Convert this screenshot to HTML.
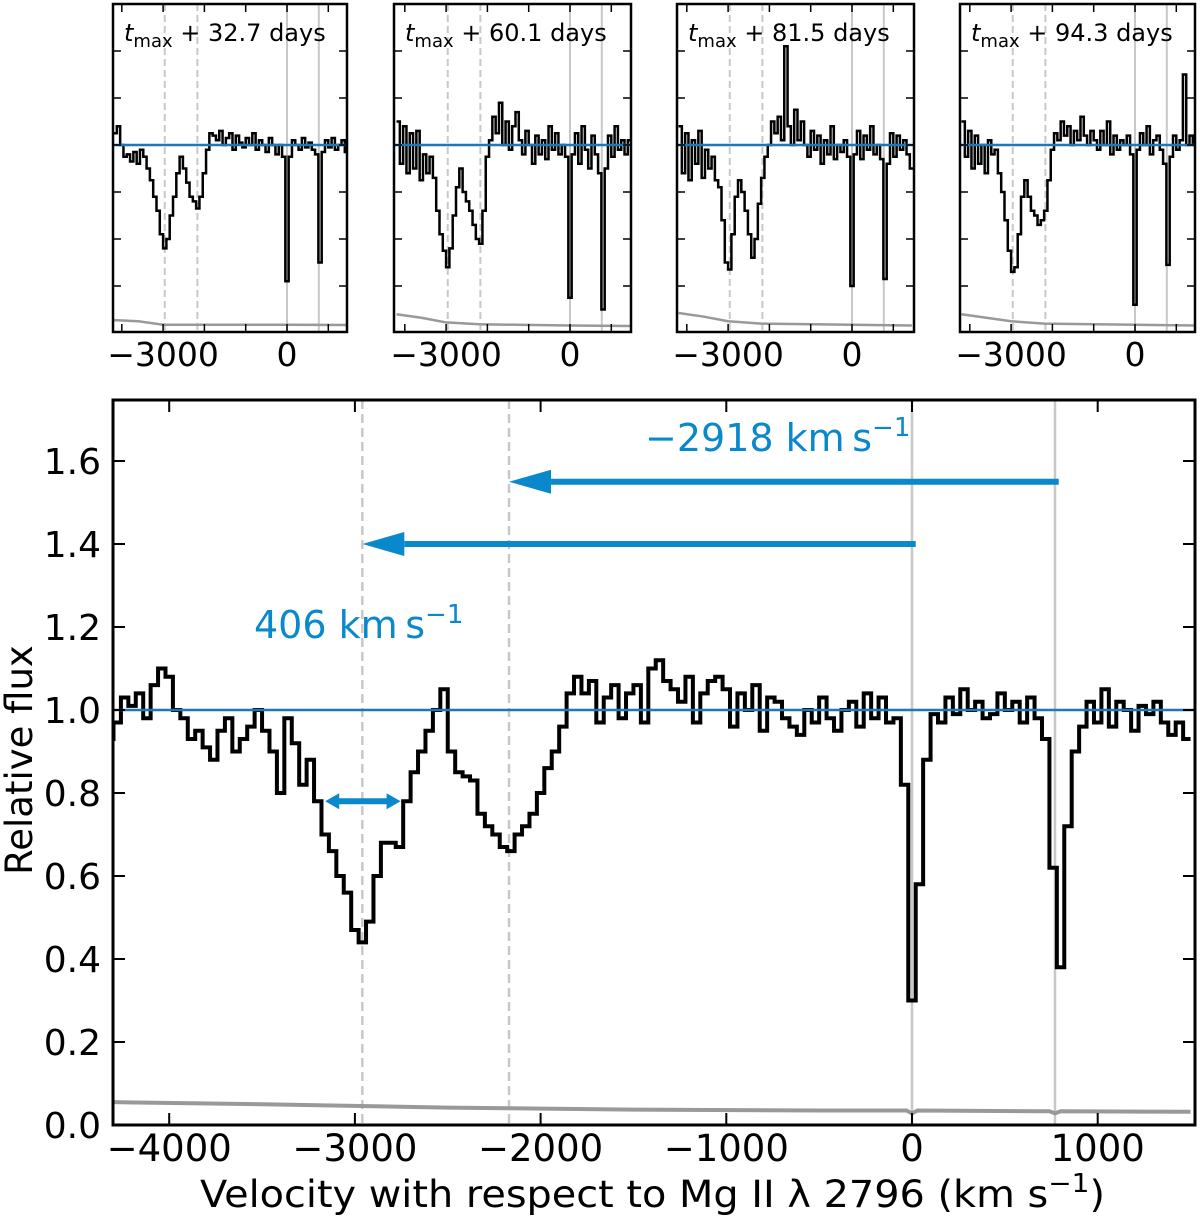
<!DOCTYPE html>
<html><head><meta charset="utf-8"><style>
body{margin:0;background:#fff}
svg{display:block;font-family:"DejaVu Sans","Liberation Sans",sans-serif}
</style></head><body>
<svg id="fig" width="1200" height="1227" viewBox="0 0 1200 1227" xmlns="http://www.w3.org/2000/svg">
<defs>
<marker id="ah" markerWidth="7" markerHeight="4" refX="0" refY="2" orient="auto" markerUnits="strokeWidth"><path d="M0,0 L7,2 L0,4 Z" fill="#0a88cc"/></marker>
</defs>
<g id="panels"></g>
<g id="main"></g>
</svg>
<script>
// ---- main panel data ----
const mainV0 = -4320, mainStep = 40;
const mainFlux = [
0.93,0.97,1.03,1.01,1.04,0.98,1.06,1.10,1.08,1.00,
0.98,0.93,0.95,0.91,0.88,0.95,0.98,0.90,0.93,0.96,
1.00,0.95,0.90,0.80,0.98,0.92,0.82,0.88,0.78,0.70,
0.66,0.60,0.56,0.47,0.44,0.49,0.60,0.68,0.68,0.67,
0.78,0.85,0.90,0.95,1.00,1.05,0.90,0.85,0.84,0.83,
0.75,0.72,0.70,0.67,0.66,0.70,0.72,0.75,0.80,0.86,
0.90,0.96,1.04,1.08,1.04,1.07,0.97,1.03,1.06,0.98,
1.04,1.06,0.97,1.10,1.12,1.07,1.05,1.02,1.08,0.97,
1.04,1.07,1.08,1.05,0.96,1.04,1.00,1.06,0.95,1.03,
1.02,0.98,0.96,0.94,1.00,0.97,1.03,0.98,0.95,1.00,
1.02,0.96,1.04,0.98,1.03,0.97,0.98,0.82,0.30,0.58,
0.88,0.99,0.97,1.03,0.99,1.05,1.00,1.02,0.98,0.99,
1.04,1.00,1.02,0.97,1.03,0.98,0.93,0.62,0.38,0.72,
0.90,0.96,1.02,0.97,1.05,0.96,1.02,1.00,0.95,1.01,
0.99,1.02,0.97,0.94,0.97,0.93];
const errV = [-4300,-3500,-2500,-1500,-500,-30,0,30,740,770,800,1500];
const errF = [0.055,0.05,0.042,0.037,0.035,0.035,0.028,0.035,0.033,0.028,0.033,0.032];
const xTicks = [-4000,-3000,-2000,-1000,0,1000];
const xTickLabels = ["\u22124000","\u22123000","\u22122000","\u22121000","0","1000"];
const yTicks = [0.0,0.2,0.4,0.6,0.8,1.0,1.2,1.4,1.6];
const yTickLabels = ["0.0","0.2","0.4","0.6","0.8","1.0","1.2","1.4","1.6"];
const dashedV = [-2960,-2170];
const solidV = [0,770];
// ---- small panel data ----
const panelV0 = -4160, panelStep = 80;
const panelTitles = ["+ 32.7 days","+ 60.1 days","+ 81.5 days","+ 94.3 days"];
const panelFlux1 = [1.05,1.08,1.00,0.95,0.96,0.93,0.97,0.92,0.98,0.95,
0.90,0.85,0.78,0.72,0.62,0.56,0.60,0.70,0.78,0.88,
0.95,0.90,0.84,0.78,0.76,0.73,0.78,0.88,0.98,1.05,
1.04,1.02,1.06,1.00,1.03,1.05,0.98,1.04,1.01,0.99,
1.03,1.00,1.05,0.98,1.02,1.00,0.97,1.03,1.00,0.96,
1.00,0.95,0.42,0.95,1.02,1.00,0.98,1.03,0.99,1.01,
0.98,0.96,0.50,0.97,1.02,0.99,1.03,0.98,1.00,1.02,0.97];
const panelFlux2 = [1.10,0.92,1.08,0.88,1.05,0.90,1.06,0.85,0.96,0.88,
0.95,0.86,0.72,0.62,0.55,0.48,0.56,0.70,0.82,0.90,
0.80,0.76,0.72,0.66,0.60,0.58,0.72,0.95,1.02,1.12,
1.05,1.18,1.00,1.10,0.98,1.08,1.14,1.02,0.96,1.06,
1.00,0.92,1.04,0.96,1.02,0.94,1.08,0.98,1.05,0.96,
1.00,0.95,0.35,0.96,1.05,0.92,1.08,0.98,0.90,1.04,
0.96,0.88,0.30,0.90,1.04,0.95,1.08,0.98,1.02,0.96,1.02];
const panelFlux3 = [1.08,0.88,1.05,0.85,1.02,0.92,1.06,0.86,0.98,0.90,
0.95,0.85,0.82,0.68,0.50,0.47,0.62,0.78,0.85,0.80,
0.72,0.62,0.52,0.60,0.75,0.86,0.95,1.00,1.10,1.05,
1.12,1.02,1.42,1.08,1.00,1.15,1.02,1.10,1.00,0.95,
1.06,0.98,1.04,0.92,1.02,0.96,1.08,0.94,1.00,0.97,
1.02,0.95,0.40,0.96,1.06,0.94,1.04,0.98,1.08,0.96,
1.00,0.94,0.43,0.92,1.05,0.95,1.04,0.98,1.02,0.96,0.90];
const panelFlux4 = [1.10,0.95,1.06,0.90,1.04,0.92,1.00,0.88,1.02,0.96,
0.98,0.88,0.80,0.68,0.55,0.46,0.48,0.62,0.78,0.85,
0.78,0.72,0.70,0.66,0.68,0.72,0.85,0.98,1.05,1.02,
1.10,1.04,1.08,1.00,1.06,1.02,1.12,1.04,1.00,1.06,
1.02,0.98,1.06,1.00,1.10,0.96,1.04,0.98,1.02,1.00,
1.04,0.96,0.32,0.98,1.05,1.00,1.08,0.96,1.02,1.04,
0.98,0.92,0.49,0.95,1.04,0.98,1.02,1.30,1.00,1.04,1.00];
const panelErrV = [-4200,-3600,-3000,-2200,0,1450];
const panelErrF1 = [0.255,0.25,0.235,0.235,0.235,0.234];
const panelErrF2 = [0.28,0.265,0.245,0.237,0.232,0.23];
const panelErrF3 = [0.285,0.27,0.25,0.24,0.235,0.232];
const panelErrF4 = [0.28,0.265,0.25,0.24,0.235,0.232];
const panelTickV = [-4000,-3000,-2000,-1000,0,1000];
const panelTickLabV = [-3000,0];
const panelTickLab = ["\u22123000","0"];
const panelYTicks = [0.4,0.6,0.8,1.0,1.2,1.4];

const NS = "http://www.w3.org/2000/svg";
function mk(tag, attrs, parent){const e=document.createElementNS(NS,tag);for(const k in attrs)e.setAttribute(k,attrs[k]);parent.appendChild(e);return e;}
function stepPath(v0, step, flux, X, Y){
  let d="";
  for(let i=0;i<flux.length;i++){
    const v=v0+i*step, xa=X(v-step/2), xb=X(v+step/2), y=Y(flux[i]);
    d += (i===0?`M${xa},${y}`:`L${xa},${y}`) + `L${xb},${y}`;
  }
  return d;
}
function linePath(vs, fs, X, Y){return vs.map((v,i)=>(i?"L":"M")+X(v)+","+Y(fs[i])).join("");}

// ---- main axes ----
const M = {l:113,r:1195,t:400,b:1125};
const X = v => 912 + v*0.1857;
const Y = f => 1125 - f*415;
const main = document.getElementById("main");
const mcp = mk("clipPath",{id:"mclip"},main);
mk("rect",{x:M.l,y:M.t,width:M.r-M.l,height:M.b-M.t},mcp);
const mg = mk("g",{"clip-path":"url(#mclip)"},main);
dashedV.forEach(v=>{const l=mk("line",{x1:X(v),x2:X(v),y1:M.t,y2:M.b,stroke:"#c8c8c8","stroke-width":2.5,"stroke-dasharray":"9,5"},mg);

});
solidV.forEach(v=>{const l=mk("line",{x1:X(v),x2:X(v),y1:M.t,y2:M.b,stroke:"#c8c8c8","stroke-width":2.5},mg);

});
const errLine = mk("path",{d:linePath(errV,errF,X,Y),fill:"none",stroke:"#999","stroke-width":4},mg);


const spec = mk("path",{d:stepPath(mainV0,mainStep,mainFlux,X,Y),fill:"none",stroke:"#000","stroke-width":4,"stroke-linejoin":"miter"},mg);


const cont = mk("line",{x1:M.l,x2:M.r,y1:Y(1),y2:Y(1),stroke:"#1f77b4","stroke-width":2.5},mg);


// arrows (tip = x2 - 42)
const a1 = mk("line",{x1:X(790),y1:Y(1.55),x2:X(-2170)+42,y2:Y(1.55),stroke:"#0a88cc","stroke-width":6,"marker-end":"url(#ah)"},main);


const a2 = mk("line",{x1:X(20),y1:Y(1.4),x2:X(-2960)+42,y2:Y(1.4),stroke:"#0a88cc","stroke-width":6,"marker-end":"url(#ah)"},main);


// double arrow width
const dwL = X(-3160), dwR = X(-2754), dwH = dwR-dwL-28;
const dw = mk("path",{d:`M${dwL},${Y(0.78)} l14,-8 v5 h${dwH} v-5 l14,8 l-14,8 v-5 h-${dwH} v5 Z`,fill:"#0a88cc"},main);


const t1 = mk("text",{x:645,y:451,"font-size":38,fill:"#0a88cc"},main);
t1.innerHTML='\u22122918 km\u2009s<tspan dy="-15" font-size="26">\u22121</tspan>';


const t2 = mk("text",{x:254,y:638,"font-size":38,fill:"#0a88cc"},main);
t2.innerHTML='406 km\u2009s<tspan dy="-15" font-size="26">\u22121</tspan>';


// frame + ticks
const fr = mk("rect",{x:M.l,y:M.t,width:M.r-M.l,height:M.b-M.t,fill:"none",stroke:"#000","stroke-width":3},main);


xTicks.forEach((v,i)=>{
  mk("line",{x1:X(v),x2:X(v),y1:M.b,y2:M.b-12,stroke:"#000","stroke-width":2},main);
  mk("line",{x1:X(v),x2:X(v),y1:M.t,y2:M.t+12,stroke:"#000","stroke-width":2},main);
  const t=mk("text",{x:X(v),y:1161,"font-size":37,"text-anchor":"middle"},main);
  t.textContent=xTickLabels[i];
  
  
});
yTicks.forEach((f,i)=>{
  mk("line",{x1:M.l,x2:M.l+12,y1:Y(f),y2:Y(f),stroke:"#000","stroke-width":2},main);
  mk("line",{x1:M.r,x2:M.r-12,y1:Y(f),y2:Y(f),stroke:"#000","stroke-width":2},main);
  const t=mk("text",{x:101,y:Y(f)+13,"font-size":36,"text-anchor":"end"},main);
  t.textContent=yTickLabels[i];
  
  
});
const xl = mk("text",{x:200,y:1207,"font-size":37,"textLength":905,"lengthAdjust":"spacingAndGlyphs"},main);
xl.innerHTML='Velocity with respect to Mg II \u03bb 2796 (km s<tspan dy="-15" font-size="26">\u22121</tspan><tspan dy="15">)</tspan>';


const yl = mk("text",{x:0,y:0,"font-size":37,"text-anchor":"middle",transform:"translate(32,760) rotate(-90)"},main);
yl.textContent="Relative flux";



// ---- small panels ----
const panelsG = document.getElementById("panels");
const pBoxes = [[113,347,287],[394,631,570],[677,914,852],[960,1195,1135]];
const pFluxes = [panelFlux1,panelFlux2,panelFlux3,panelFlux4];
const pErrs = [panelErrF1,panelErrF2,panelErrF3,panelErrF4];
const PT=4, PB=332;
const PY = f => 380 - f*235;
pBoxes.forEach((b,p)=>{
  const PX = v => b[2] + v*0.0413;
  const g = mk("g",{},panelsG);
  
  
  const cp = mk("clipPath",{id:"pc"+p},g);
  mk("rect",{x:b[0],y:PT,width:b[1]-b[0],height:PB-PT},cp);
  const cg = mk("g",{"clip-path":`url(#pc${p})`},g);
  dashedV.forEach(v=>mk("line",{x1:PX(v),x2:PX(v),y1:PT,y2:PB,stroke:"#c8c8c8","stroke-width":2,"stroke-dasharray":"7,4"},cg));
  solidV.forEach(v=>mk("line",{x1:PX(v),x2:PX(v),y1:PT,y2:PB,stroke:"#c8c8c8","stroke-width":2},cg));
  const el = mk("path",{d:linePath(panelErrV,pErrs[p],PX,PY),fill:"none",stroke:"#999","stroke-width":2.5},cg);
  
  
  const sp = mk("path",{d:stepPath(panelV0,panelStep,pFluxes[p],PX,PY),fill:"none",stroke:"#000","stroke-width":2.5},cg);
  
  
  const cl = mk("line",{x1:b[0],x2:b[1],y1:PY(1),y2:PY(1),stroke:"#1f77b4","stroke-width":2.5},cg);
  
  
  mk("rect",{x:b[0],y:PT,width:b[1]-b[0],height:PB-PT,fill:"none",stroke:"#000","stroke-width":2.5},g);
  panelTickV.forEach(v=>{
    mk("line",{x1:PX(v),x2:PX(v),y1:PB,y2:PB-8,stroke:"#000","stroke-width":1.5},g);
    mk("line",{x1:PX(v),x2:PX(v),y1:PT,y2:PT+8,stroke:"#000","stroke-width":1.5},g);
  });
  panelYTicks.forEach(f=>{
    mk("line",{x1:b[0],x2:b[0]+8,y1:PY(f),y2:PY(f),stroke:"#000","stroke-width":1.5},g);
    mk("line",{x1:b[1],x2:b[1]-8,y1:PY(f),y2:PY(f),stroke:"#000","stroke-width":1.5},g);
  });
  panelTickLabV.forEach((v,i)=>{
    const t=mk("text",{x:PX(v),y:366,"font-size":33,"text-anchor":"middle"},g);
    t.textContent=panelTickLab[i];
    
    
  });
  const tt = mk("text",{x:b[0]+11,y:41,"font-size":24},g);
  tt.innerHTML='<tspan font-style="italic">t</tspan><tspan dy="6" font-size="18">max</tspan><tspan dy="-6"> '+panelTitles[p]+'</tspan>';
  
  
});
</script>
</body></html>
